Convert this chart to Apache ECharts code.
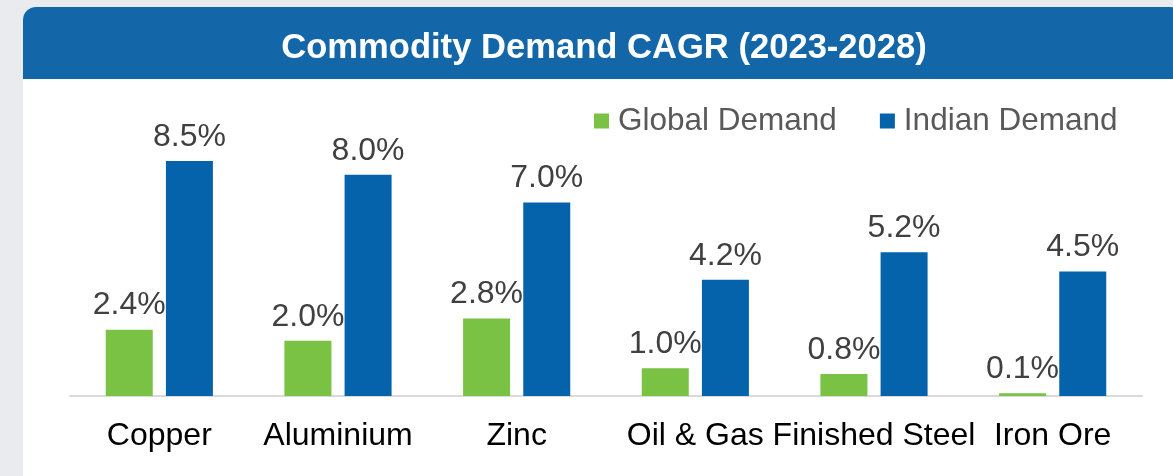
<!DOCTYPE html>
<html>
<head>
<meta charset="utf-8">
<script src="https://cdn.jsdelivr.net/npm/echarts@6/dist/echarts.min.js"></script>
<style>
html,body{margin:0;padding:0;background:#e9ebef;}
#c{width:1173px;height:476px;}
</style>
</head>
<body>
<div id="c"></div>
<script>
const titleText = 'Commodity Demand CAGR (2023-2028)';
const categories = ['Copper', 'Aluminium', 'Zinc', 'Oil & Gas', 'Finished Steel', 'Iron Ore'];
const seriesNames = ['Global Demand', 'Indian Demand'];
const globalDemand = [2.4, 2.0, 2.8, 1.0, 0.8, 0.1];
const indianDemand = [8.5, 8.0, 7.0, 4.2, 5.2, 4.5];

const FONT = '"Liberation Sans", Arial, sans-serif';
const chart = echarts.init(document.getElementById('c'), null, {renderer: 'canvas'});

const labelCfg = {
  show: true,
  position: 'top',
  distance: 8,
  fontFamily: FONT,
  fontSize: 32,
  color: '#404040',
  formatter: p => p.value.toFixed(1) + '%'
};

chart.setOption({
  animation: false,
  backgroundColor: '#e9ebef',
  graphic: [
    {type: 'rect', z: -10, silent: true,
     shape: {x: 23, y: 7, width: 1160, height: 480, r: [13, 13, 0, 0]},
     style: {fill: '#ffffff'}},
    {type: 'rect', z: -9, silent: true,
     shape: {x: 23, y: 7, width: 1160, height: 72, r: [13, 13, 0, 0]},
     style: {fill: '#1366a8'}}
  ],
  title: {
    text: titleText,
    left: 599, top: 26, textAlign: 'center',
    textStyle: {color: '#ffffff', fontFamily: FONT, fontWeight: 'bold', fontSize: 34.6}
  },
  legend: {
    data: seriesNames,
    left: 589, top: 100,
    icon: 'rect', itemWidth: 15, itemHeight: 15, itemGap: 43,
    textStyle: {fontFamily: FONT, fontSize: 31.5, color: '#595959', padding: [0, 0, 0, 4]}
  },
  grid: {left: 70, right: 31, top: 119.5, bottom: 80, containLabel: false},
  xAxis: {
    type: 'category',
    data: categories,
    axisLine: {lineStyle: {color: '#d9d9d9', width: 2}},
    axisTick: {show: false},
    axisLabel: {fontFamily: FONT, fontSize: 32, color: '#000000', margin: 24, interval: 0}
  },
  yAxis: {
    type: 'value', min: 0, max: 10, interval: 2,
    show: false, splitLine: {show: false}
  },
  series: [
    {name: seriesNames[0], type: 'bar', data: globalDemand,
     barWidth: 47, barGap: '28%', barCategoryGap: '40%',
     itemStyle: {color: '#79c244'}, label: labelCfg},
    {name: seriesNames[1], type: 'bar', data: indianDemand,
     barWidth: 47,
     itemStyle: {color: '#0563ab'}, label: labelCfg}
  ]
});
</script>
</body>
</html>
